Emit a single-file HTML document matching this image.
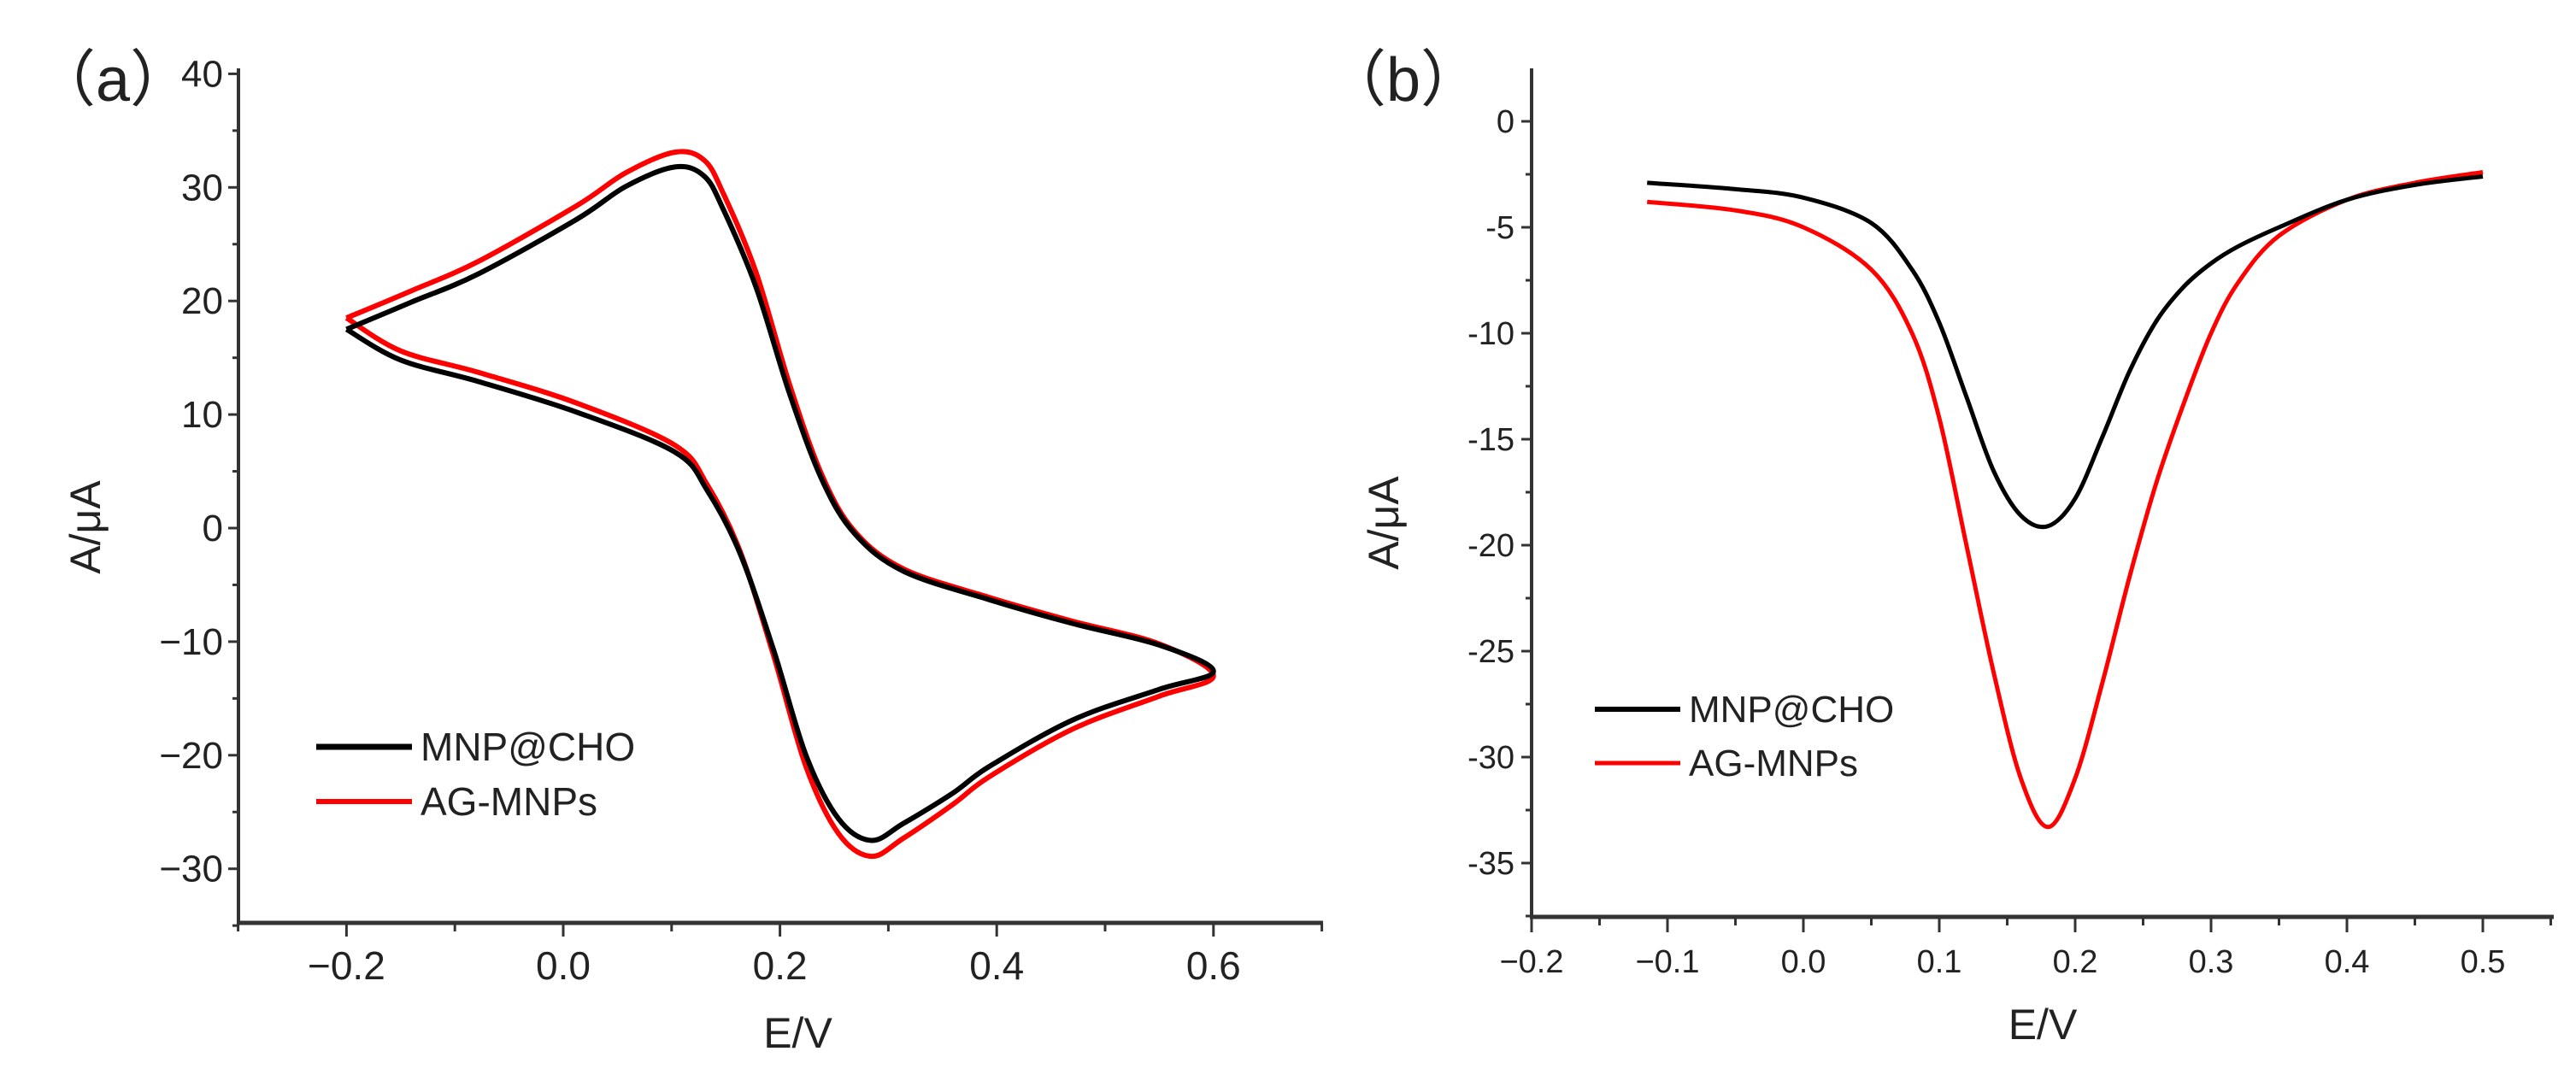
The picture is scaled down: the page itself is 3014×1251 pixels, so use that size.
<!DOCTYPE html>
<html><head><meta charset="utf-8"><style>
html,body{margin:0;padding:0;background:#fff;}
svg{display:block;}
text{font-family:"Liberation Sans",Arial,sans-serif;fill:#222;}
</style></head><body>
<svg id="fig" width="3014" height="1251" viewBox="0 0 3014 1251" xmlns="http://www.w3.org/2000/svg">
<g id="pa"></g>
<g id="pb"></g>
</svg>
<script>
// Panel (a) CV data: loops (E, I), upper branch then lower branch
const cvE = [-0.2,-0.14,-0.078,0.0126,0.058,0.103,0.13,0.148,0.178,0.209,0.239,0.269,0.314,0.393,0.47,0.55,0.6,0.55,0.47,0.393,0.36,0.314,0.284,0.254,0.224,0.194,0.163,0.133,0.103,0.0126,-0.078,-0.15,-0.2];
const cvBlackI = [17.5,19.9,22.4,27.2,30.1,31.8,31.0,28.0,21.2,11.8,4.2,-0.5,-3.8,-6.3,-8.4,-10.3,-12.6,-14.2,-16.9,-21.0,-23.3,-26.0,-27.5,-25.6,-20.0,-10.7,-2.2,3.3,6.7,10.2,12.9,14.8,17.5];
const cvRedI = [18.5,20.9,23.5,28.4,31.3,33.1,32.4,29.4,22.5,12.6,4.6,-0.3,-3.6,-6.1,-8.2,-10.2,-13.0,-14.8,-17.7,-21.9,-24.3,-27.3,-28.9,-26.9,-21.0,-11.2,-2.0,3.8,7.3,11.0,13.7,15.6,18.5];
const aYTicks = [40,30,20,10,0,-10,-20,-30];
const aYLabels = ["40","30","20","10","0","\u221210","\u221220","\u221230"];
const aXTicks = [-0.2,0.0,0.2,0.4,0.6];
const aXLabels = ["\u22120.2","0.0","0.2","0.4","0.6"];
// Panel (b) DPV data
const dpE = [-0.115,-0.05,0,0.05,0.08,0.1,0.12,0.14,0.16,0.18,0.2,0.22,0.24,0.26,0.28,0.3,0.32,0.35,0.4,0.45,0.5];
const dpBlack = [-2.9,-3.2,-3.6,-4.8,-7.0,-9.5,-13.0,-16.5,-18.6,-19.1,-17.8,-14.9,-11.8,-9.4,-7.8,-6.7,-5.9,-5.0,-3.7,-3.0,-2.6];
const dpRed = [-3.8,-4.2,-5.0,-7.0,-10.0,-14.0,-20.0,-26.0,-31.0,-33.3,-31.0,-26.5,-21.5,-17.0,-13.3,-10.0,-7.6,-5.4,-3.7,-2.9,-2.4];
const bYTicks = [0,-5,-10,-15,-20,-25,-30,-35];
const bYLabels = ["0","-5","-10","-15","-20","-25","-30","-35"];
const bXTicks = [-0.2,-0.1,0.0,0.1,0.2,0.3,0.4,0.5];
const bXLabels = ["\u22120.2","\u22120.1","0.0","0.1","0.2","0.3","0.4","0.5"];

const NS="http://www.w3.org/2000/svg";
function mk(tag,attrs,parent){const e=document.createElementNS(NS,tag);for(const k in attrs)e.setAttribute(k,attrs[k]);parent.appendChild(e);return e;}
function smooth(pts){
  let d="M"+pts[0][0].toFixed(1)+","+pts[0][1].toFixed(1);
  const n=pts.length;
  for(let i=0;i<n-1;i++){
    const p0=pts[i>0?i-1:0],p1=pts[i],p2=pts[i+1],p3=pts[i+2<n?i+2:n-1];
    const c1=[p1[0]+(p2[0]-p0[0])/6,p1[1]+(p2[1]-p0[1])/6];
    const c2=[p2[0]-(p3[0]-p1[0])/6,p2[1]-(p3[1]-p1[1])/6];
    d+="C"+c1[0].toFixed(1)+","+c1[1].toFixed(1)+" "+c2[0].toFixed(1)+","+c2[1].toFixed(1)+" "+p2[0].toFixed(1)+","+p2[1].toFixed(1);
  }
  return d;
}
// ---- Panel a ----
const A=document.getElementById('pa');
const ax0=279, ay0=1080, axR=1548, ayT=80;
const axX=v=>659+(v)*1268;
const ayY=v=>618-v*13.29;
let e;
e=mk('line',{x1:ax0,y1:ayT,x2:ax0,y2:ay0,stroke:'#333','stroke-width':4},A);

e=mk('line',{x1:ax0-2,y1:ay0,x2:axR,y2:ay0,stroke:'#333','stroke-width':5},A);

for(let v=40;v>=-35;v-=5){const y=ayY(v);const major=aYTicks.includes(v);
  e=mk('line',{x1:ax0-(major?12:7),y1:y,x2:ax0,y2:y,stroke:'#333','stroke-width':3},A);
  }
aYTicks.forEach((v,i)=>{e=mk('text',{x:ax0-18,y:ayY(v)+15,'text-anchor':'end','font-size':44},A);e.textContent=aYLabels[i];
  });
for(let k=-3;k<=7;k++){const v=k/10;const x=axX(v);if(x<ax0-1||x>axR)continue;const major=aXTicks.some(t=>Math.abs(t-v)<1e-6);
  e=mk('line',{x1:x,y1:ay0,x2:x,y2:ay0+(major?16:10),stroke:'#333','stroke-width':3},A);
  }
aXTicks.forEach((v,i)=>{e=mk('text',{x:axX(v),y:1146,'text-anchor':'middle','font-size':46},A);e.textContent=aXLabels[i];
  });
e=mk('text',{x:(ax0+axR)/2+20,y:1226,'text-anchor':'middle','font-size':50},A);e.textContent='E/V';

e=mk('text',{x:0,y:0,'text-anchor':'middle','font-size':50,transform:'translate(117,617) rotate(-90)'},A);e.textContent='A/\u03bcA';

e=mk('text',{x:40,y:118,'font-size':72,'font-family':'"Liberation Sans","Noto Sans CJK SC",sans-serif'},A);e.textContent='\uff08a\uff09';

e=mk('path',{d:smooth(cvE.map((v,i)=>[axX(v),ayY(cvRedI[i])])),fill:'none',stroke:'#ff0000','stroke-width':6,'stroke-linejoin':'round'},A);

e=mk('path',{d:smooth(cvE.map((v,i)=>[axX(v),ayY(cvBlackI[i])])),fill:'none',stroke:'#000','stroke-width':6,'stroke-linejoin':'round'},A);

e=mk('line',{x1:370,y1:874,x2:482,y2:874,stroke:'#000','stroke-width':7},A);

e=mk('text',{x:492,y:890,'font-size':46},A);e.textContent='MNP@CHO';

e=mk('line',{x1:370,y1:938,x2:482,y2:938,stroke:'#ff0000','stroke-width':6},A);

e=mk('text',{x:492,y:954,'font-size':46},A);e.textContent='AG-MNPs';


// ---- Panel b ----
const B=document.getElementById('pb');
const bx0=1792, by0=1073, bxR=2988, byT=80;
const bxX=v=>1792+(v+0.2)*1590;
const byY=v=>142-v*24.8;
e=mk('line',{x1:bx0,y1:byT,x2:bx0,y2:by0,stroke:'#333','stroke-width':4},B);

e=mk('line',{x1:bx0-2,y1:by0,x2:bxR,y2:by0,stroke:'#333','stroke-width':5},B);

for(let k=0;k>=-15;k--){const v=k*2.5;const y=byY(v);const major=(k%2===0);
  e=mk('line',{x1:bx0-(major?12:7),y1:y,x2:bx0,y2:y,stroke:'#333','stroke-width':3},B);
  }
bYTicks.forEach((v,i)=>{e=mk('text',{x:bx0-20,y:byY(v)+13,'text-anchor':'end','font-size':38},B);e.textContent=bYLabels[i];
  });
for(let k=-4;k<=11;k++){const v=k/20;const x=bxX(v);if(x>bxR)continue;const major=(k%2===0);
  e=mk('line',{x1:x,y1:by0,x2:x,y2:by0+(major?18:10),stroke:'#333','stroke-width':3},B);
  }
bXTicks.forEach((v,i)=>{e=mk('text',{x:bxX(v),y:1138,'text-anchor':'middle','font-size':38},B);e.textContent=bXLabels[i];
  });
e=mk('text',{x:2390,y:1216,'text-anchor':'middle','font-size':50},B);e.textContent='E/V';

e=mk('text',{x:0,y:0,'text-anchor':'middle','font-size':50,transform:'translate(1636,612) rotate(-90)'},B);e.textContent='A/\u03bcA';

e=mk('text',{x:1550,y:118,'font-size':72,'font-family':'"Liberation Sans","Noto Sans CJK SC",sans-serif'},B);e.textContent='\uff08b\uff09';

e=mk('path',{d:smooth(dpE.map((v,i)=>[bxX(v),byY(dpRed[i])])),fill:'none',stroke:'#ff0000','stroke-width':5},B);

e=mk('path',{d:smooth(dpE.map((v,i)=>[bxX(v),byY(dpBlack[i])])),fill:'none',stroke:'#000','stroke-width':5},B);

e=mk('line',{x1:1866,y1:830,x2:1966,y2:830,stroke:'#000','stroke-width':6},B);

e=mk('text',{x:1976,y:845,'font-size':44},B);e.textContent='MNP@CHO';

e=mk('line',{x1:1866,y1:893,x2:1966,y2:893,stroke:'#ff0000','stroke-width':5},B);

e=mk('text',{x:1976,y:908,'font-size':44},B);e.textContent='AG-MNPs';

</script>
</body></html>
